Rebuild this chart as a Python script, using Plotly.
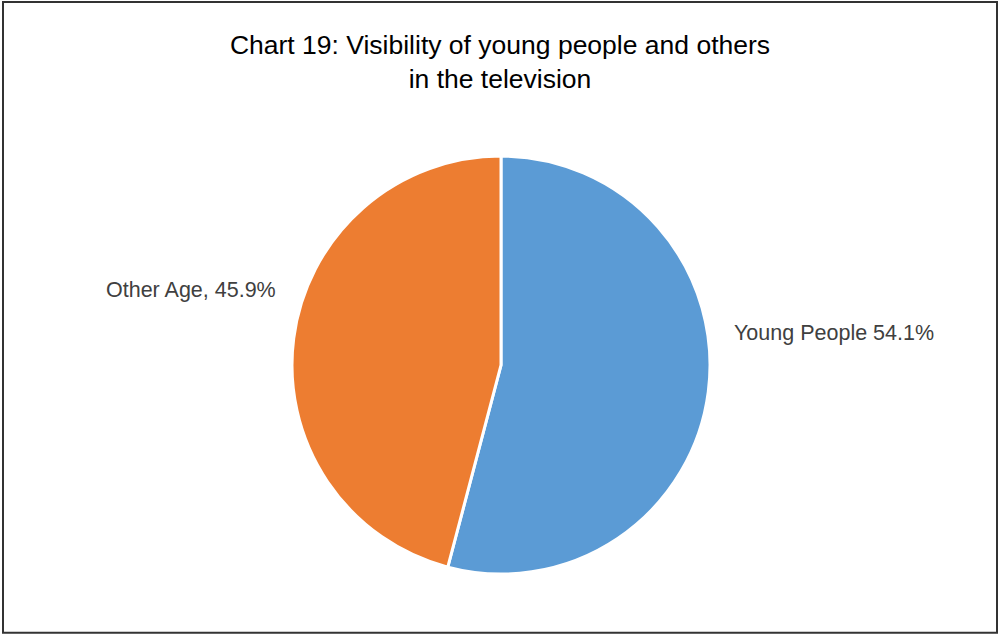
import plotly.graph_objects as go

categories = ["Young People", "Other Age"]
values = [54.1, 45.9]
label_texts = ["Young People 54.1%", "Other Age, 45.9%"]
colors = ["#5B9BD5", "#ED7D31"]

LABEL_FONT = dict(family="Liberation Sans, Arial, sans-serif", size=21.5, color="#404040")

fig = go.Figure(go.Pie(
    labels=categories,
    values=values,
    textinfo="none",
    sort=False,
    direction="clockwise",
    rotation=0,
    marker=dict(colors=colors, line=dict(color="white", width=3)),
    domain=dict(x=[0.292, 0.71], y=[0.097, 0.755]),
    showlegend=False,
    hoverinfo="label+percent",
))

# data labels placed beside the slices as in the original (Excel-style)
label_pos = [(0.732, 1 - 333 / 636, "left"), (0.278, 1 - 290 / 636, "right")]
annotations = []
for txt, (lx, ly, anchor) in zip(label_texts, label_pos):
    annotations.append(dict(text=txt, x=lx, y=ly, xref="paper", yref="paper",
                            xanchor=anchor, yanchor="middle", showarrow=False,
                            font=LABEL_FONT))

fig.update_layout(
    width=1000, height=636,
    margin=dict(l=0, r=0, t=0, b=0),
    paper_bgcolor="white",
    plot_bgcolor="white",
    title=dict(
        text="Chart 19: Visibility of young people and others<br>in the television",
        x=0.5, xanchor="center", y=1 - 54 / 636, yanchor="middle",
        font=dict(family="Liberation Sans, Arial, sans-serif", size=26.5, color="#000000"),
    ),
    annotations=annotations,
    shapes=[dict(type="rect", xref="paper", yref="paper", x0=0.003, x1=0.997, y0=0.005, y1=0.997,
                 line=dict(color="#333333", width=2))],
)

fig.write_html("out.html", config={"displayModeBar": False},
               post_script="document.body.style.margin='0';document.body.style.overflow='hidden';")
